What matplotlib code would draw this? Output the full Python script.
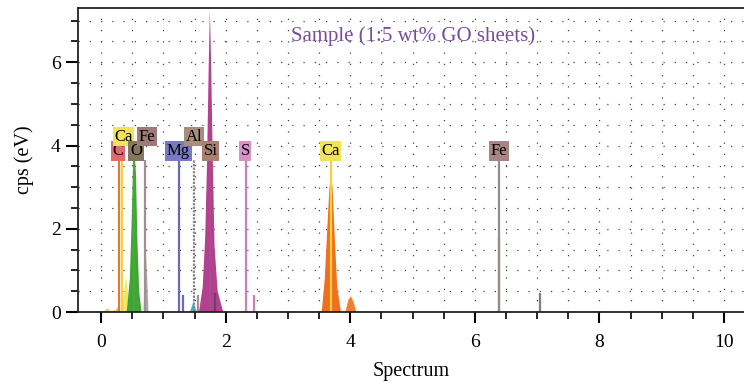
import numpy as np
import matplotlib.pyplot as plt
from matplotlib.ticker import MultipleLocator

plt.rcParams['font.family'] = ['Liberation Serif', 'DejaVu Serif']

# element marker lines (keV) and their labels
elements = ['C', 'Ca', 'O', 'Fe', 'Mg', 'Al', 'Si', 'S', 'Ca', 'Fe']
energies = [0.28, 0.34, 0.53, 0.71, 1.25, 1.49, 1.75, 2.32, 3.69, 6.39]
line_tops = [3.65, 3.65, 3.65, 3.65, 3.65, 3.65, 3.65, 3.65, 3.65, 3.65]
label_x = [0.27, 0.36, 0.56, 0.74, 1.24, 1.49, 1.76, 2.31, 3.68, 6.38]
label_y = [3.87, 4.21, 3.87, 4.21, 3.87, 4.21, 3.87, 3.87, 3.87, 3.87]
line_colors = ['#e8782a', '#f2d23a', '#4aa838', '#a09090', '#6a6ab8',
               '#888080', '#b04890', '#c880c0', '#f2d23a', '#9a8a8a']
box_colors = ['#e26a6a', '#f2e35a', '#857660', '#9c7a78', '#7a7ac2',
              '#a88c7c', '#a88070', '#d892c8', '#f2e35a', '#a88484']

# main peaks, outline
o_x = [0.41, 0.46, 0.49, 0.51, 0.535, 0.56, 0.58, 0.61, 0.65]
o_y = [0.0, 0.8, 2.2, 3.4, 3.8, 3.3, 1.8, 0.5, 0.0]
ca_l_x = [0.33, 0.37, 0.40, 0.43, 0.47]
ca_l_y = [0.0, 0.5, 0.85, 0.5, 0.0]
fe_l_x = [0.68, 0.70, 0.72, 0.74, 0.76]
fe_l_y = [0.0, 0.9, 1.4, 0.8, 0.0]
si_x = [1.57, 1.63, 1.67, 1.70, 1.725, 1.745, 1.765, 1.79, 1.82, 1.87, 1.96]
si_y = [0.0, 0.6, 1.8, 3.6, 5.8, 7.25, 6.0, 3.8, 1.6, 0.5, 0.0]
ca_x = [3.54, 3.59, 3.63, 3.665, 3.69, 3.715, 3.75, 3.79, 3.85]
ca_y = [0.0, 0.8, 2.0, 3.0, 3.25, 3.0, 1.8, 0.6, 0.0]
cab_x = [3.92, 3.97, 4.01, 4.05, 4.10]
cab_y = [0.0, 0.3, 0.38, 0.25, 0.0]
cyan_x = [1.42, 1.46, 1.48, 1.50, 1.54]
cyan_y = [0.0, 0.15, 0.25, 0.15, 0.0]
bump_x = [0.04, 0.10, 0.16, 0.22, 0.27, 0.31]
bump_y = [0.0, 0.10, 0.02, 0.05, 0.12, 0.0]

# small escape / sum lines
small_x = [1.31, 1.56, 1.83, 2.46, 6.38, 7.05]
small_y = [0.42, 0.40, 0.45, 0.40, 1.80, 0.45]
small_c = ['#6a6ab8', '#a09090', '#704060', '#c880c0', '#8a7a7a', '#8a7a7a']

fig = plt.figure(figsize=(7.44, 3.83), dpi=100)
ax = fig.add_axes([0.105, 0.185, 0.895, 0.794])

ax.fill(bump_x, bump_y, color='#f5c060', alpha=0.8, lw=0)
ax.fill(ca_l_x, ca_l_y, color='#f2e35a', alpha=0.9, lw=0)
ax.fill(o_x, o_y, color='#3fa535', lw=0)
ax.fill(fe_l_x, fe_l_y, color='#a09090', alpha=0.8, lw=0)
ax.fill(cyan_x, cyan_y, color='#40b8c0', lw=0)
ax.fill(si_x, si_y, color='#b2418f', lw=0)
ax.fill(ca_x, ca_y, color='#f07020', lw=0)
ax.fill(cab_x, cab_y, color='#f08030', lw=0)

for x, h, c in zip(small_x, small_y, small_c):
    ax.vlines(x, 0, h, color=c, lw=1.6)

for e, t, c in zip(energies, line_tops, line_colors):
    ls = (0, (1, 0.6)) if c == '#888080' else '-'
    ax.vlines(e, 0, t, color=c, lw=1.6, linestyles=ls)

for el, x, y, bc in zip(elements, label_x, label_y, box_colors):
    ax.text(x, y, el, ha='center', va='center', fontsize=12,
            bbox=dict(boxstyle='square,pad=0.1', fc=bc, ec='none'))

ax.text(5.0, 6.62, 'Sample (1:5 wt% GO sheets)', color='#7a4c9c',
        fontsize=15, ha='center', va='center')

ax.set_xlim(-0.37, 10.32)
ax.set_ylim(0, 7.3)
ax.xaxis.set_major_locator(MultipleLocator(2))
ax.xaxis.set_minor_locator(MultipleLocator(0.5))
ax.yaxis.set_major_locator(MultipleLocator(2))
ax.yaxis.set_minor_locator(MultipleLocator(0.5))
ax.grid(which='both', color='#444444', lw=0.9, linestyle=(0, (1, 8)))
ax.set_axisbelow(True)

ax.spines['right'].set_visible(False)
for s in ['left', 'bottom', 'top']:
    ax.spines[s].set_linewidth(1.3)
    ax.spines[s].set_color('#222222')
ax.tick_params(which='major', length=8, width=1.5, labelsize=14, direction='out')
ax.tick_params(which='minor', length=5, width=1.2, direction='out')
ax.tick_params(axis='y', which='major', length=9)
ax.tick_params(axis='x', which='major', pad=8)
ax.set_xlabel('Spectrum', fontsize=14.5, labelpad=8)
ax.set_ylabel('cps (eV)', fontsize=14.5, labelpad=12)

fig.savefig('out.png', dpi=100)
